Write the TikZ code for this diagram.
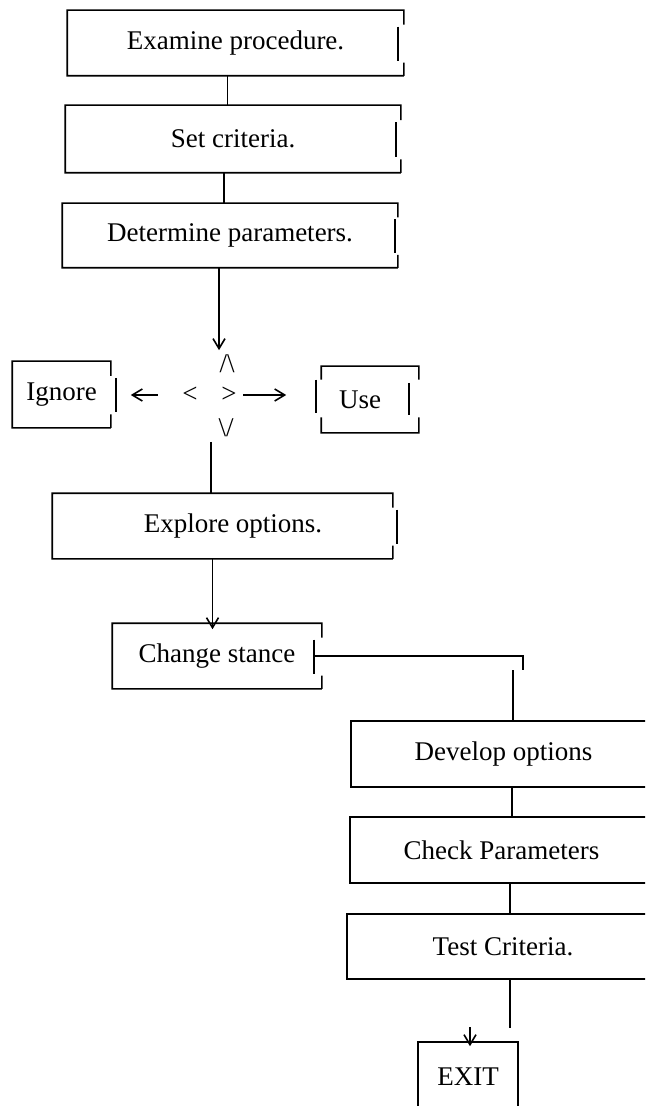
\documentclass[tikz,border=0pt]{standalone}
\usepackage{fontspec}
\setmainfont{Liberation Serif}
\usetikzlibrary{calc,arrows.meta}

\tikzset{
  tybox/.style={inner sep=0pt, font=\fontsize{13.5pt}{16pt}\selectfont},
  glyph/.style={inner sep=0pt, font=\fontsize{13.5pt}{16pt}\selectfont},
}

\begin{document}
\begin{tikzpicture}[x=0.5pt, y=-0.5pt, line width=0.8pt, >={Straight Barb[length=5pt,width=6pt]}]
\useasboundingbox (0,0) rectangle (645,1106);
\clip (0,0) rectangle (645,1106);

% boxes
\node[tybox, minimum width=167.5pt, minimum height=32pt] (exam) at (235.5,43) {Examine procedure.};
\node[tybox, minimum width=167pt, minimum height=33pt] (crit) at (233,139) {Set criteria.};
\node[tybox, minimum width=167pt, minimum height=31.5pt] (param) at (230,235.5) {Determine parameters.};
\node[tybox, minimum width=48.5pt, minimum height=32.5pt] (ignore) at (61.5,394.5) {Ignore};
\node[tybox, minimum width=48pt, minimum height=32.5pt] (use) at (370,399.5) {Use\hspace*{10pt}};
\node[tybox, minimum width=169.5pt, minimum height=32pt] (explore) at (222.5,526) {\hspace*{10.5pt}Explore options.};
\node[tybox, minimum width=104pt, minimum height=32pt] (stance) at (217,656) {Change stance};
\node[tybox, minimum width=151.5pt, minimum height=32pt] (dev) at (503.5,754) {Develop options};
\node[tybox, minimum width=150.5pt, minimum height=32pt] (check) at (501.5,850) {Check Parameters};
\node[tybox, minimum width=155pt, minimum height=31.5pt] (test) at (503,946.5) {Test Criteria.};
\node[tybox, minimum width=49pt, minimum height=34pt] (exit) at (468,1077) {EXIT};

% typed decision mark
\node[glyph] (dtop) at (227,364) {/\textbackslash};
\node[glyph] (dleft) at (190,395) {<};
\node[glyph] (dright) at (229,395) {>};
\node[glyph] (dbot) at (226,428) {\textbackslash/};

% box outlines, right side typed in three pieces
\foreach \n/\dx in {exam/-6, crit/-5, param/-3, ignore/5, explore/4, stance/-8} {
  \draw (\n.south east) -- (\n.south west) -- (\n.north west) -- (\n.north east)
    -- ($(\n.north east)!0.22!(\n.south east)$);
  \draw ($(\n.north east)!0.8!(\n.south east)$) -- (\n.south east);
  \draw ($(\n.north east)!0.25!(\n.south east)+(\dx,0)$) -- ($(\n.north east)!0.77!(\n.south east)+(\dx,0)$);
}
\draw ($(use.north west)!0.2!(use.south west)$) -- (use.north west) -- (use.north east)
  -- ($(use.north east)!0.2!(use.south east)$);
\draw ($(use.north west)!0.77!(use.south west)$) -- (use.south west) -- (use.south east)
  -- ($(use.north east)!0.77!(use.south east)$);
\draw ($(use.north west)!0.2!(use.south west)+(-5,0)$) -- ($(use.north west)!0.71!(use.south west)+(-5,0)$);
\draw ($(use.north east)!0.25!(use.south east)+(-10,0)$) -- ($(use.north east)!0.74!(use.south east)+(-10,0)$);
\foreach \n in {dev,check,test,exit}
  \draw (\n.north west) rectangle (\n.south east);

% connectors
\draw ([xshift=-4pt]exam.south) -- ([xshift=-4pt]exam.south |- crit.north);
\draw ([xshift=-4.5pt]crit.south) -- ([xshift=-4.5pt]crit.south |- param.north);
\draw[->, shorten >=2pt] ([xshift=-5.5pt]param.south) -- ([xshift=-5.5pt]param.south |- dtop.north);
\draw[->, shorten <=12pt, shorten >=10pt] (dleft.west) -- (dleft.west -| ignore.east);
\draw[->, shorten <=3pt, shorten >=17.5pt] (dright.east) -- (dright.east -| use.west);
\draw[shorten <=2pt] ([xshift=-7.5pt]dbot.south) -- ([xshift=-7.5pt]dbot.south |- explore.north);
\draw[->, shorten >=-3pt] ([xshift=-5pt]explore.south) -- ([xshift=-5pt]explore.south |- stance.north);
\draw ([xshift=-4pt]stance.east) -- ++(209,0) -- ++(0,14) coordinate (jog);
\draw ([xshift=-5pt]jog) -- ([xshift=-5pt]jog |- dev.north);
\draw ([xshift=4.25pt]dev.south) -- ([xshift=4.25pt]dev.south |- check.north);
\draw ([xshift=4.25pt]check.south) -- ([xshift=4.25pt]check.south |- test.north);
\draw ([xshift=3.5pt]test.south) -- ++(0,49);
\draw[->, shorten >=-2pt] ([xshift=1pt,yshift=7.5pt]exit.north) -- ([xshift=1pt]exit.north);
\end{tikzpicture}
\end{document}
